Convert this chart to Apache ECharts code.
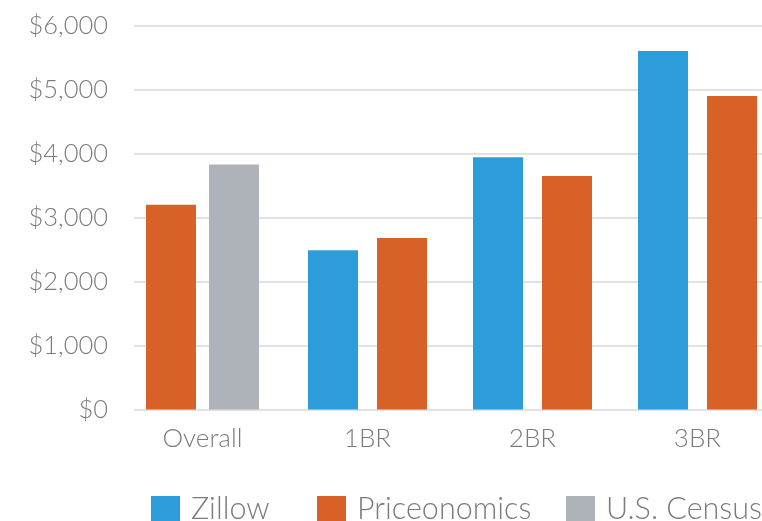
<!DOCTYPE html>
<html>
<head>
<meta charset="utf-8">
<script src="https://cdn.jsdelivr.net/npm/echarts@6/dist/echarts.min.js"></script>
<style>
html,body{margin:0;padding:0;background:#fff;}
#chart{width:762px;height:521px;}
</style>
</head>
<body>
<div id="chart"></div>
<script>
var categories = ['Overall', '1BR', '2BR', '3BR'];
var zillow = [null, 2490, 3940, 5600];
var priceonomics = [3200, 2680, 3650, 4900];
var census = [3830, null, null, null];
var yTicks = [0, 1000, 2000, 3000, 4000, 5000, 6000];

var FONT = 'Lato';
var TXT = '#7b7b7b';
var C_Z = '#2c9dda', C_P = '#d86128', C_C = '#aeb3b9';

// Overall group uses a slightly tighter gap than the other groups
var pOverall = priceonomics.map(function (v, i) { return i === 0 ? v : null; });
var pRest = priceonomics.map(function (v, i) { return i === 0 ? null : v; });

var chart = echarts.init(document.getElementById('chart'), null, {renderer: 'canvas'});
chart.setOption({
  animation: false,
  backgroundColor: '#ffffff',
  grid: [
    {left: 134, right: 0, top: 25.5, bottom: 111.5, outerBoundsMode: 'none', containLabel: false},
    {left: 120, width: 660, top: 25.5, bottom: 111.5, outerBoundsMode: 'none', containLabel: false}
  ],
  xAxis: [
    {gridIndex: 0, type: 'category', data: categories, show: false},
    {gridIndex: 1, type: 'category', data: categories, position: 'bottom',
      axisLine: {show: false}, axisTick: {show: false}, splitLine: {show: false},
      axisLabel: {color: TXT, fontFamily: FONT, fontWeight: 300, fontSize: 26, margin: 16}},
    {gridIndex: 1, type: 'category', data: categories, position: 'bottom', show: false}
  ],
  yAxis: [
    {gridIndex: 0, type: 'value', min: yTicks[0], max: yTicks[yTicks.length - 1], interval: 1000,
      axisLine: {show: false}, axisTick: {show: false},
      splitLine: {lineStyle: {color: '#e2e2e2', width: 2}},
      axisLabel: {color: TXT, fontFamily: FONT, fontWeight: 300, fontSize: 25.5, margin: 26,
        formatter: function (v) { return '$' + v.toLocaleString('en-US'); }}},
    {gridIndex: 1, type: 'value', min: yTicks[0], max: yTicks[yTicks.length - 1], show: false}
  ],
  legend: [
    {data: ['Zillow'], left: 151, top: 494},
    {data: ['Priceonomics'], left: 317, top: 494},
    {data: ['U.S. Census'], left: 566, top: 494}
  ].map(function (l) {
    return Object.assign(l, {
      selectedMode: false, padding: 0, itemWidth: 29, itemHeight: 27, icon: 'rect',
      textStyle: {color: TXT, fontFamily: FONT, fontWeight: 300, fontSize: 30.5, padding: [0, 0, 0, 6]}
    });
  }),
  series: [
    {name: 'Zillow', type: 'bar', xAxisIndex: 1, yAxisIndex: 1, data: zillow,
      barWidth: 50, barGap: '38%', itemStyle: {color: C_Z}},
    {name: 'Priceonomics', type: 'bar', xAxisIndex: 1, yAxisIndex: 1, data: pRest,
      barWidth: 50, barGap: '38%', itemStyle: {color: C_P}},
    {name: 'Priceonomics', type: 'bar', xAxisIndex: 2, yAxisIndex: 1, data: pOverall,
      barWidth: 50, barGap: '26%', itemStyle: {color: C_P}},
    {name: 'U.S. Census', type: 'bar', xAxisIndex: 2, yAxisIndex: 1, data: census,
      barWidth: 50, barGap: '26%', itemStyle: {color: C_C}}
  ]
});
</script>
</body>
</html>
